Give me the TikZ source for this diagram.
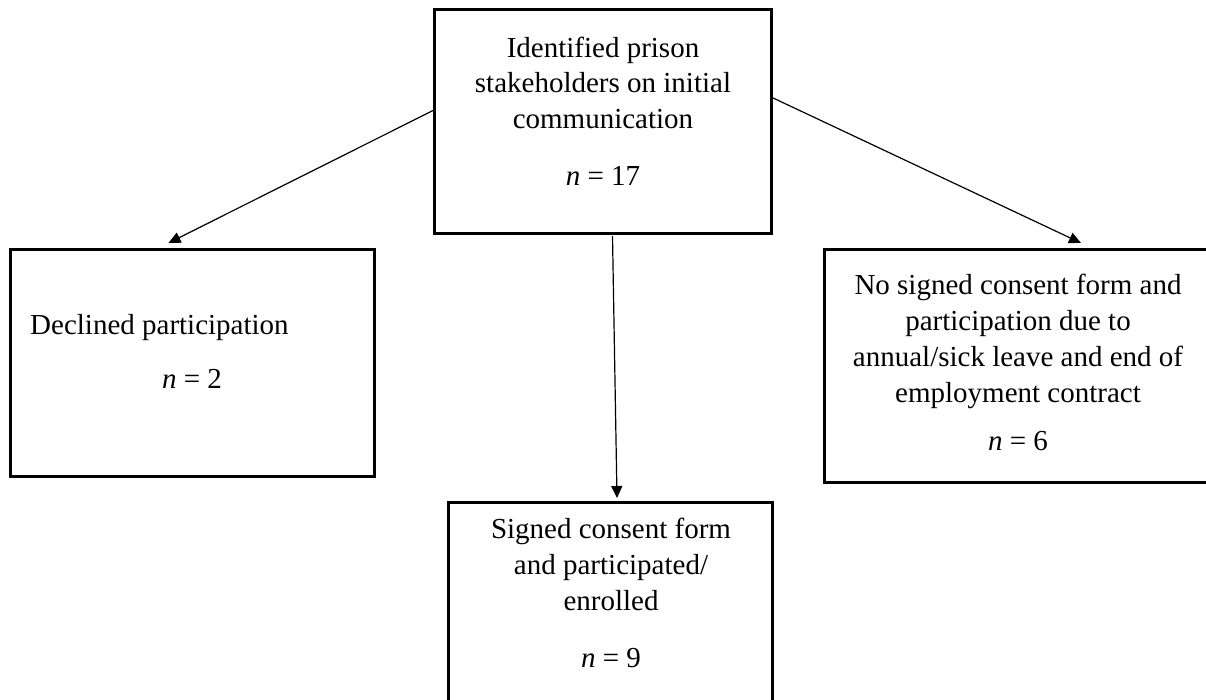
\documentclass[tikz,border=0pt]{standalone}
\usepackage{fontspec}
\setmainfont{Liberation Serif}
\usetikzlibrary{arrows.meta}
\begin{document}
\begin{tikzpicture}[x=1pt,y=-1pt,
  box/.style={draw=black,line width=3pt,rectangle,inner sep=0pt,outer sep=0pt},
  txt/.style={anchor=base,inner sep=0pt,font=\fontsize{29}{35}\selectfont},
  arr/.style={draw=black,line width=1.2pt,-{Triangle[length=12pt,width=11pt]}}]
\useasboundingbox (0,0) rectangle (1206,699);
\fill[white] (0,0) rectangle (1206,699);
\clip (0,0) rectangle (1206,699);
% boxes
\node[box,minimum width=337pt,minimum height=224pt] (top) at (602.5,121) {};
\node[box,minimum width=364pt,minimum height=227.5pt] (left) at (192.5,362.75) {};
\node[box,minimum width=388pt,minimum height=233pt] (right) at (1018,365.5) {};
\node[box,minimum width=324pt,minimum height=238pt] (bot) at (610,621) {};
% top text
\node[txt] (t1) at (603,57) {Identified prison};
\node[txt] (t2) at (603,92.5) {stakeholders on initial};
\node[txt] (t3) at (603,128) {communication};
\node[txt] (t4) at (603,185) {\textit{n} = 17};
% left text
\node[txt,anchor=base west] (l1) at (30,334) {Declined participation};
\node[txt] (l2) at (192,388) {\textit{n} = 2};
% right text
\node[txt] (r1) at (1018,294) {No signed consent form and};
\node[txt] (r2) at (1018,330) {participation due to};
\node[txt] (r3) at (1018,366) {annual/sick leave and end of};
\node[txt] (r4) at (1018,402) {employment contract};
\node[txt] (r5) at (1018,450) {\textit{n} = 6};
% bottom text
\node[txt] (b1) at (611,538) {Signed consent form};
\node[txt] (b2) at (611,574) {and participated/};
\node[txt] (b3) at (611,610) {enrolled};
\node[txt] (b4) at (611,667) {\textit{n} = 9};
% arrows
\draw[arr] ([yshift=11pt]top.west) -- ([xshift=-24pt,yshift=6pt]left.north);
\draw[arr] ([yshift=24pt]top.east) -- ([xshift=63pt,yshift=6pt]right.north);
\draw[arr] ([xshift=10pt,yshift=-3pt]top.south) -- ([xshift=7pt,yshift=4pt]bot.north);
\end{tikzpicture}
\end{document}
